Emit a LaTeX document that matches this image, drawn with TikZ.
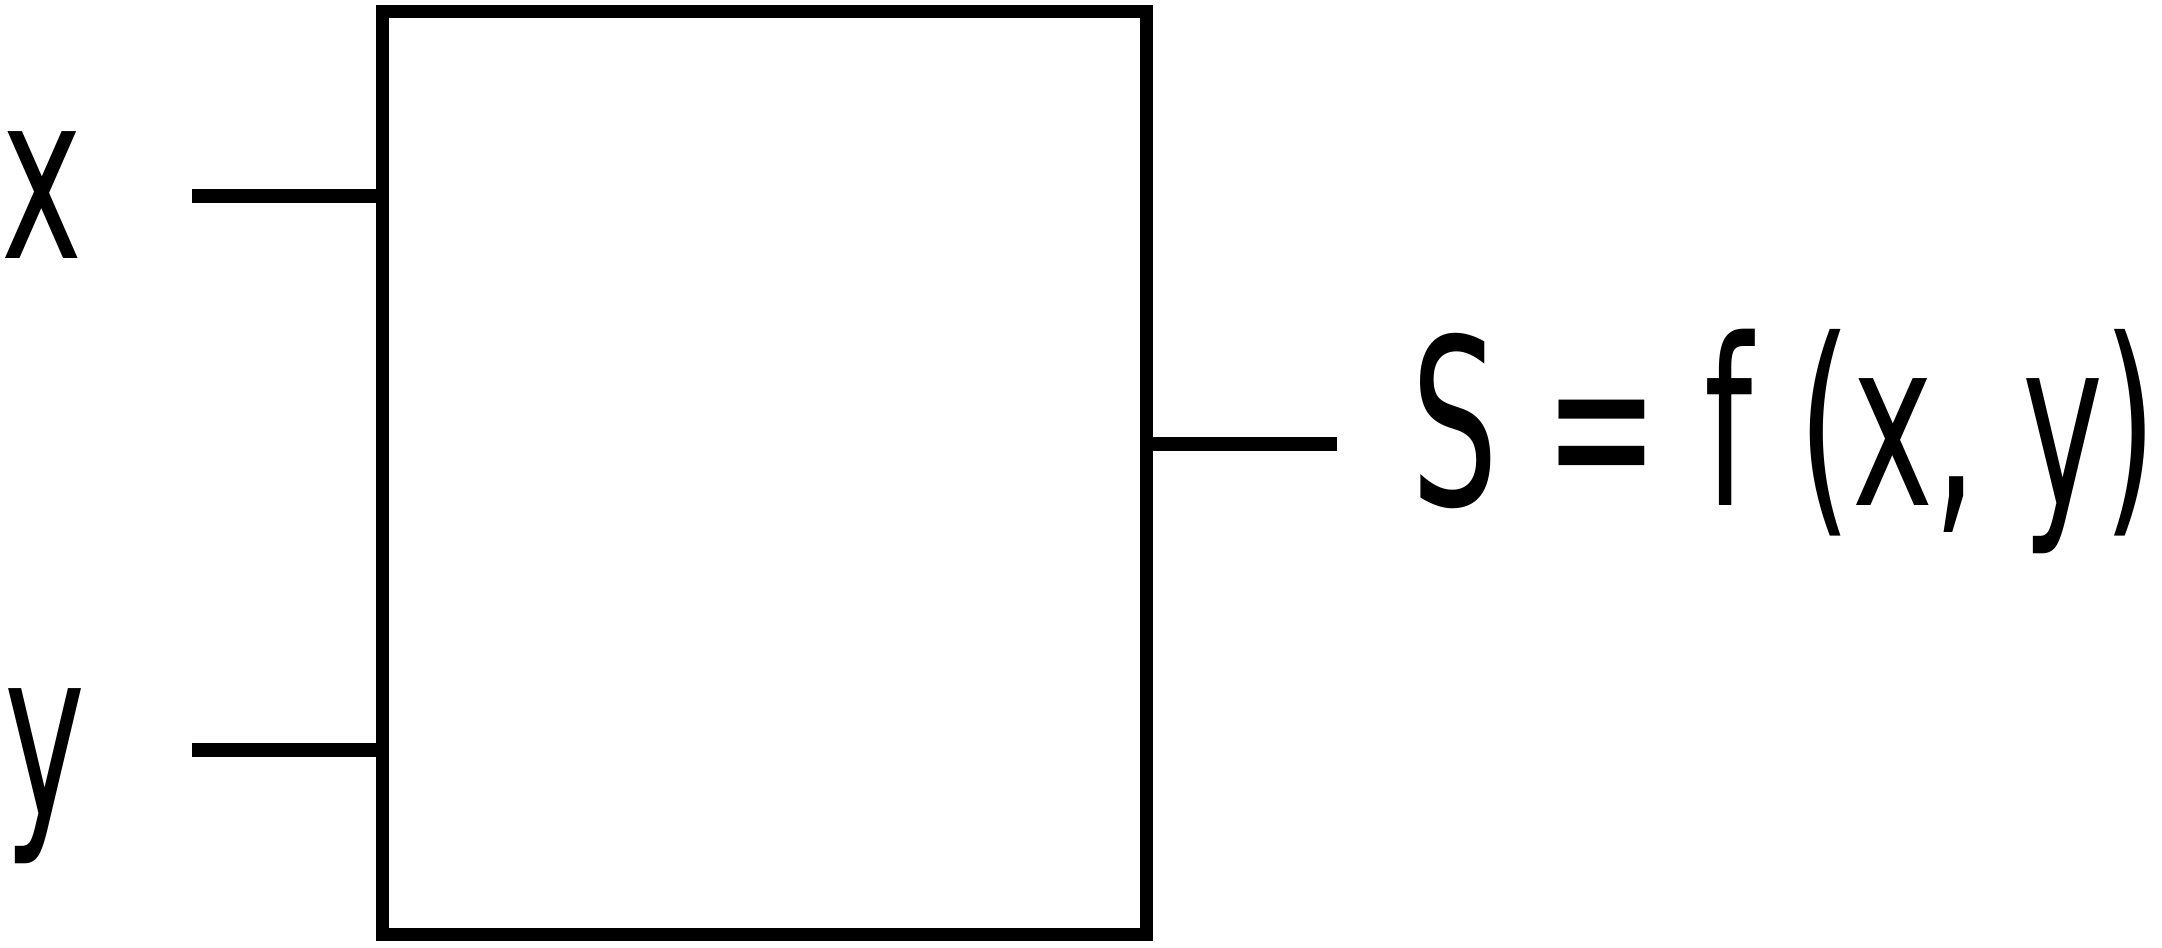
\documentclass[tikz,border=0pt]{standalone}
\usepackage{fontspec}
\newfontfamily\blockfont[FakeStretch=0.59, WordSpace=1.05]{DejaVu Sans}
\begin{document}
\begin{tikzpicture}[x=0.01cm, y=-0.01cm,
    wire/.style={line width=3.8pt},
    textlabel/.style={inner sep=0pt, anchor=base west,
        font=\blockfont\fontsize{66}{70}\selectfont}]
    \useasboundingbox (0,0) rectangle (2162,947);
    \node[draw, line width=3.8pt, inner sep=0pt,
        minimum width=7.63cm, minimum height=9.23cm] (block) at (764.5,473) {};
    \node[textlabel] (xlabel) at (1,258) {x};
    \node[textlabel] (ylabel) at (4,815) {y};
    \node[textlabel] (slabel) at (1411,505) {S = f (x, y)};
    \coordinate (xin) at (192,196);
    \coordinate (yin) at (192,750);
    \coordinate (sout) at (1337,444);
    \draw[wire] (xin) -- (xin -| block.west);
    \draw[wire] (yin) -- (yin -| block.west);
    \draw[wire] (block.east |- sout) -- (sout);
\end{tikzpicture}
\end{document}
